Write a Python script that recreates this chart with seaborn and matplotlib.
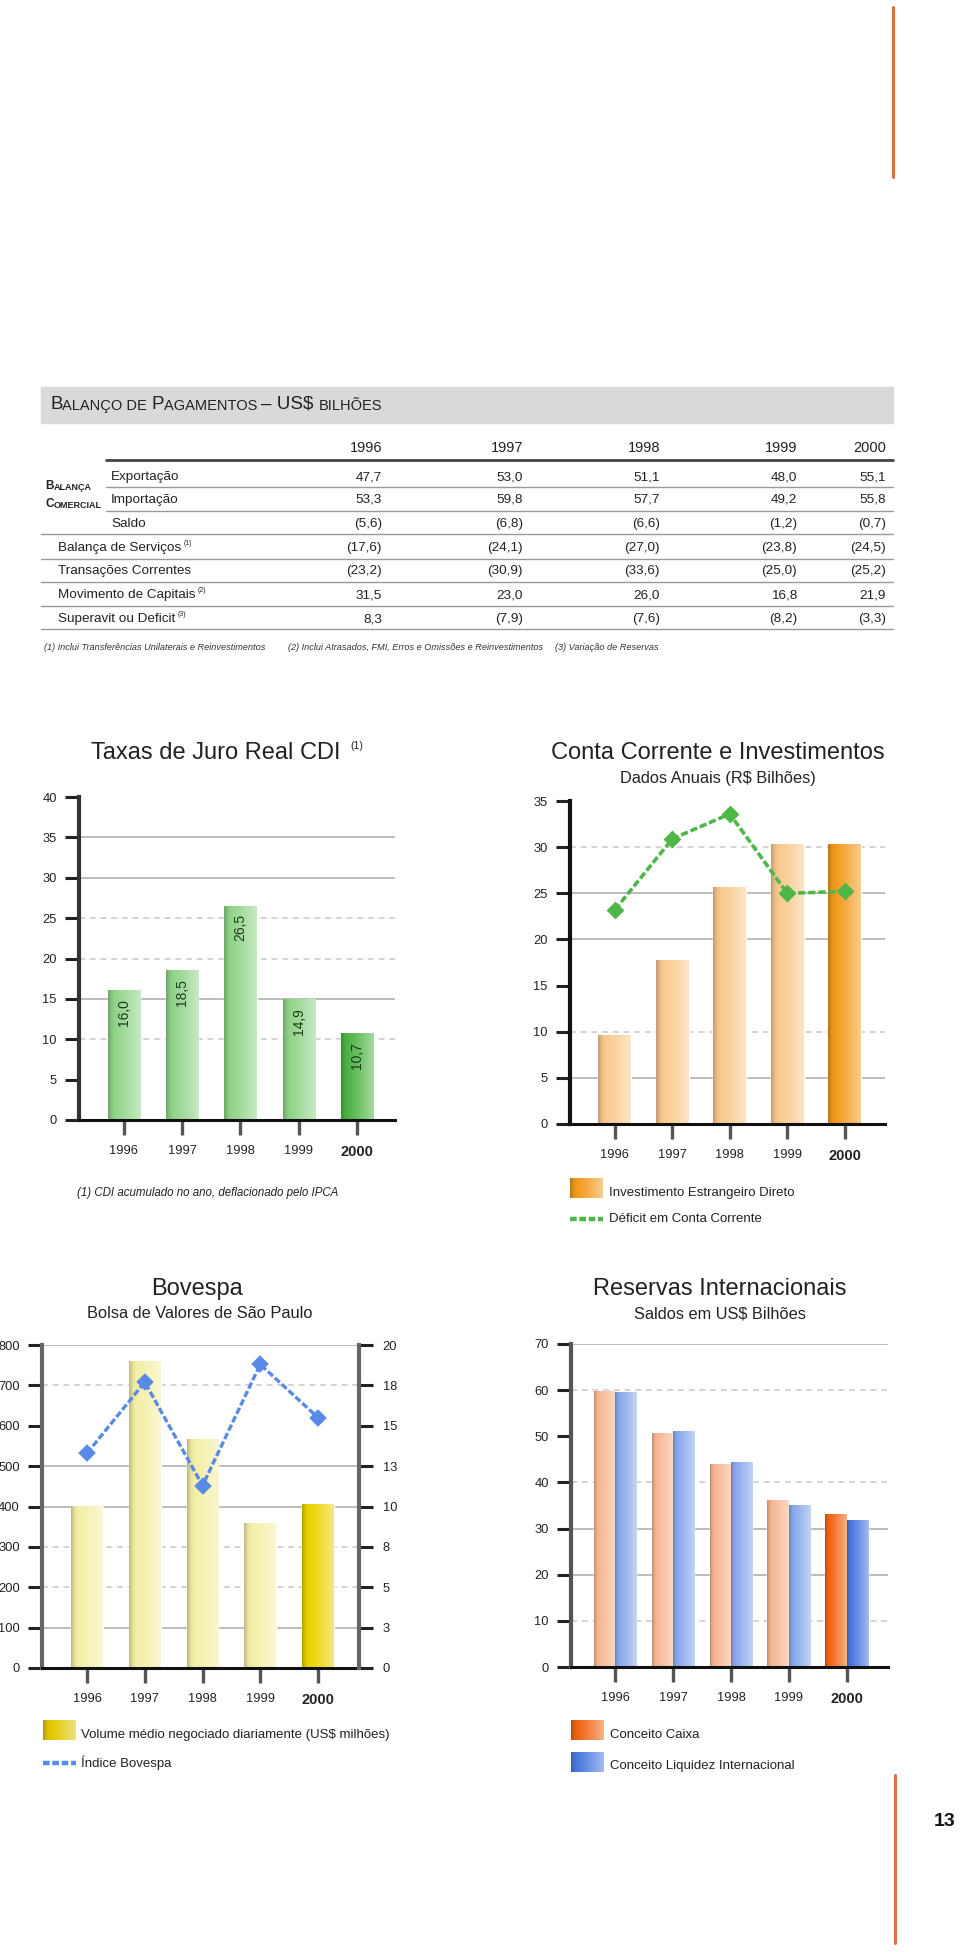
import numpy as np
import pandas as pd
import matplotlib
matplotlib.use("Agg")
import matplotlib.pyplot as plt
import matplotlib.colors as mcolors
from matplotlib.patches import Rectangle
from matplotlib.lines import Line2D
import seaborn as sns

sns.set_theme(style="white")
plt.rcParams['font.family'] = ['Liberation Sans', 'DejaVu Sans']
NARROW = ['Liberation Sans Narrow', 'Liberation Sans', 'DejaVu Sans']

W, H = 960, 1952
anos = ['1996', '1997', '1998', '1999', '2000']

# tabela - balanco de pagamentos (US$ bilhoes)
exportacao = [47.7, 53.0, 51.1, 48.0, 55.1]
importacao = [53.3, 59.8, 57.7, 49.2, 55.8]
saldo = [-5.6, -6.8, -6.6, -1.2, -0.7]
servicos = [-17.6, -24.1, -27.0, -23.8, -24.5]
transacoes = [-23.2, -30.9, -33.6, -25.0, -25.2]
capitais = [31.5, 23.0, 26.0, 16.8, 21.9]
superavit = [8.3, -7.9, -7.6, -8.2, -3.3]

# graficos
cdi = [16.0, 18.5, 26.5, 14.9, 10.7]
ied = [9.6, 17.7, 25.6, 30.3, 30.3]
deficit_cc = [23.2, 30.9, 33.6, 25.0, 25.2]
bov_volume = [400, 760, 565, 357, 406]
bov_indice = [13.3, 17.7, 11.3, 18.8, 15.5]
bov_dir_labels = ['0', '3', '5', '8', '10', '13', '15', '18', '20']
res_caixa = [59.8, 50.7, 43.8, 36.0, 33.0]
res_liquidez = [59.4, 51.1, 44.4, 35.0, 31.7]

verde = ['#92d48a', '#92d48a', '#92d48a', '#92d48a', '#4fb446']
laranja = ['#f9c98e', '#f9c98e', '#f9c98e', '#f9c98e', '#f39a1e']
amarelo = ['#f4efa6', '#f4efa6', '#f4efa6', '#f4efa6', '#ecd300']
caixa_cor, caixa_2000 = '#f6b793', '#f26414'
liq_cor, liq_2000 = '#8aa9ec', '#4c7be0'


def fmt(v):
    s = f"{abs(v):.1f}".replace('.', ',')
    return f"({s})" if v < 0 else s


fig = plt.figure(figsize=(9.6, 19.52), dpi=100)
bg = fig.add_axes([0, 0, 1, 1])
bg.set_xlim(0, W)
bg.set_ylim(H, 0)
bg.axis('off')


def add_ax(l, t, r, b):
    return fig.add_axes([l / W, 1 - b / H, (r - l) / W, (b - t) / H])


def grad(color, n=48):
    base = np.array(mcolors.to_rgb(color))
    t = np.linspace(0, 1, n)
    k = np.interp(t, [0, 0.12, 0.45, 0.8, 1], [-0.22, -0.05, 0.12, 0.35, 0.5])[:, None]
    return np.where(k < 0, base * (1 + k), base + (1 - base) * k)


def shade(ax, p, color):
    x, y, w, h = p.get_x(), p.get_y(), p.get_width(), p.get_height()
    ax.imshow(grad(color)[None], extent=(x, x + w, y, y + h), aspect='auto',
              interpolation='bilinear', zorder=p.get_zorder() + 0.1)


def style(ax, ymax, yticks, solid, dashed, spine_col, xlim):
    ax.set_ylim(0, ymax)
    ax.set_xlim(*xlim)
    ax.set_yticks(yticks)
    ax.set_xticks(range(5))
    ax.set_xticklabels(anos)
    ax.set_xlabel('')
    ax.set_ylabel('')
    ax.set_facecolor('none')
    for y in solid:
        ax.axhline(y, color='#bdbdbd', lw=1.4, zorder=0.5)
    for y in dashed:
        ax.axhline(y, color='#c9c9c9', lw=1.1, ls=(0, (4, 3)), zorder=0.5)
    for s in ['top', 'right']:
        ax.spines[s].set_visible(False)
    ax.spines['left'].set_linewidth(3)
    ax.spines['left'].set_color(spine_col)
    ax.spines['bottom'].set_linewidth(2.2)
    ax.spines['bottom'].set_color('#111')
    ax.tick_params(axis='y', direction='out', length=10, width=2.2, color='#222',
                   pad=6, labelsize=9.3, labelcolor='#222', left=True)
    ax.tick_params(axis='x', direction='out', length=11, width=2.4, color='#555',
                   pad=7, labelsize=9.3, labelcolor='#222', bottom=True)
    ax.get_xticklabels()[-1].set_fontweight('bold')
    ax.get_xticklabels()[-1].set_fontsize(10.5)


def legend_patch(x0, x1, y0, y1, color):
    bg.imshow(grad(color)[None], extent=(x0, x1, y1, y0), aspect='auto', interpolation='bilinear')


def legend_line(x0, x1, y, color):
    bg.add_line(Line2D([x0, x1], [y, y], color=color, lw=3.2, dashes=[1.5, 0.6]))


def chain(parts, x, y, weight='normal', family=None):
    fam = family or plt.rcParams['font.family']
    prev = None
    for s, size in parts:
        if prev is None:
            prev = bg.text(x, y, s, fontsize=size, ha='left', va='bottom', color='#222',
                           fontweight=weight, family=fam)
        else:
            prev = bg.annotate(s, xy=(1, 0), xycoords=prev, ha='left', va='bottom',
                               fontsize=size, color='#222', fontweight=weight, family=fam)
    return prev


# ---------------- tabela ----------------
bg.add_patch(Rectangle((41, 387), 852, 36, color='#d9d9d9', zorder=0))
chain([('B', 13.5), ('ALANÇO DE ', 10.5), ('P', 13.5), ('AGAMENTOS ', 10.5), ('– US$ ', 13.5), ('BILHÕES', 10.5)],
      50, 413)

col_x = [382, 523, 660, 797, 886]
for xx, a in zip(col_x, anos):
    bg.text(xx, 448, a, ha='right', va='center', fontsize=10.5, color='#222')

linhas = [('Exportação', exportacao, 477, 111, ''),
          ('Importação', importacao, 500, 111, ''),
          ('Saldo', saldo, 524, 111, ''),
          ('Balança de Serviços', servicos, 548, 58, '(1)'),
          ('Transações Correntes', transacoes, 571, 58, ''),
          ('Movimento de Capitais', capitais, 595, 58, '(2)'),
          ('Superavit ou Deficit', superavit, 619, 58, '(3)')]
for nome, vals, yy, xx, nota in linhas:
    t = bg.text(xx, yy, nome, ha='left', va='center', fontsize=9.7, color='#222')
    if nota:
        bg.annotate(nota, xy=(1, 0.55), xycoords=t, xytext=(1.5, 0), textcoords='offset points',
                    ha='left', va='bottom', fontsize=5, color='#222')
    for cx, v in zip(col_x, vals):
        bg.text(cx, yy, fmt(v), ha='right', va='center', fontsize=9.7, color='#222')

bg.add_line(Line2D([106, 893], [460, 460], color='#444', lw=2))
for yy in [487, 511]:
    bg.add_line(Line2D([106, 893], [yy, yy], color='#999', lw=1))
for yy in [534, 559, 582, 606, 629]:
    bg.add_line(Line2D([41, 893], [yy, yy], color='#999', lw=1))

chain([('B', 8.5), ('ALANÇA', 6.5)], 45, 492, weight='bold')
chain([('C', 8.5), ('OMERCIAL', 6.5)], 45, 510, weight='bold')

notas = [(44, '(1) Inclui Transferências Unilaterais e Reinvestimentos'),
         (288, '(2) Inclui Atrasados, FMI, Erros e Omissões e Reinvestimentos'),
         (555, '(3) Variação de Reservas')]
for xx, s in notas:
    bg.text(xx, 647, s, ha='left', va='center', fontsize=6.6, style='italic', color='#333', family=NARROW)

# ---------------- Taxas de Juro Real CDI ----------------
ax1 = add_ax(79, 797, 395, 1120)
sns.barplot(x=anos, y=cdi, hue=anos, palette=verde, saturation=1, width=0.55, legend=False, ax=ax1)
style(ax1, 40, range(0, 41, 5), [35, 30, 15], [25, 20, 10], '#333', (-0.77, 4.65))
for p, c in zip(ax1.patches, verde):
    shade(ax1, p, c)
for i, v in enumerate(cdi):
    ax1.annotate(fmt(v), xy=(i, v), xytext=(0, -6), textcoords='offset points', rotation=90,
                 ha='center', va='top', fontsize=10, color='#1d3a1d', zorder=5)
bg.text(216, 753, 'Taxas de Juro Real CDI', ha='center', va='center', fontsize=17, color='#222')
bg.text(350, 746, '(1)', ha='left', va='center', fontsize=7.5, color='#222')
bg.text(77, 1193, '(1) CDI acumulado no ano, deflacionado pelo IPCA', ha='left', va='center',
        fontsize=8.3, style='italic', color='#222')

# ---------------- Conta Corrente e Investimentos ----------------
ax2 = add_ax(570, 801, 885, 1124)
sns.barplot(x=anos, y=ied, hue=anos, palette=laranja, saturation=1, width=0.57, legend=False, ax=ax2)
sns.pointplot(x=anos, y=deficit_cc, color='#4db848', markers='D', linestyles='--', errorbar=None,
              markersize=7, linewidth=2.6, zorder=6, ax=ax2)
ax2.lines[-1].set_dashes([2, 0.8])
style(ax2, 35, range(0, 36, 5), [25, 20, 5], [30, 10], '#111', (-0.78, 4.70))
for p, c in zip(ax2.patches, laranja):
    shade(ax2, p, c)
bg.text(718, 753, 'Conta Corrente e Investimentos', ha='center', va='center', fontsize=17, color='#222')
bg.text(718, 779, 'Dados Anuais (R$ Bilhões)', ha='center', va='center', fontsize=11.8, color='#222')
legend_patch(570, 603, 1178, 1198, '#f39a1e')
bg.text(609, 1193, 'Investimento Estrangeiro Direto', ha='left', va='center', fontsize=9.5, color='#222')
legend_line(570, 603, 1219, '#4db848')
bg.text(609, 1219, 'Déficit em Conta Corrente', ha='left', va='center', fontsize=9.5, color='#222')

# ---------------- Bovespa ----------------
ax3 = add_ax(42, 1345, 359, 1668)
sns.barplot(x=anos, y=bov_volume, hue=anos, palette=amarelo, saturation=1, width=0.55, legend=False, ax=ax3)
ax3r = ax3.twinx()
sns.pointplot(x=anos, y=bov_indice, color='#5a8ae8', markers='D', linestyles='--', errorbar=None,
              markersize=7, linewidth=2.4, zorder=6, ax=ax3r)
ax3r.lines[-1].set_dashes([2, 0.8])
style(ax3, 800, range(0, 801, 100), [800, 500, 400, 100], [700, 300, 200], '#666', (-0.78, 4.71))
for p, c in zip(ax3.patches, amarelo):
    shade(ax3, p, c)
ax3r.set_ylim(0, 20)
ax3r.set_yticks(np.arange(0, 20.1, 2.5))
ax3r.set_yticklabels(bov_dir_labels)
ax3r.set_ylabel('')
ax3r.set_xlabel('')
for s in ['top', 'left', 'bottom']:
    ax3r.spines[s].set_visible(False)
ax3r.spines['right'].set_linewidth(3)
ax3r.spines['right'].set_color('#666')
ax3r.tick_params(axis='y', direction='out', length=10, width=2.2, color='#222', pad=7,
                 labelsize=9.3, labelcolor='#222', right=True)
ax3.set_xlim(-0.78, 4.71)
bg.text(197, 1289, 'Bovespa', ha='center', va='center', fontsize=17, color='#222')
bg.text(200, 1314, 'Bolsa de Valores de São Paulo', ha='center', va='center', fontsize=11.8, color='#222')
legend_patch(43, 76, 1720, 1740, '#e2c800')
bg.text(81, 1735, 'Volume médio negociado diariamente (US$ milhões)', ha='left', va='center',
        fontsize=9.5, color='#222')
legend_line(43, 76, 1763, '#5a8ae8')
bg.text(81, 1763, 'Índice Bovespa', ha='left', va='center', fontsize=9.5, color='#222')

# ---------------- Reservas Internacionais ----------------
ax4 = add_ax(571, 1344, 888, 1667)
res = pd.DataFrame({'ano': anos * 2,
                    'valor': res_caixa + res_liquidez,
                    'conceito': ['Conceito Caixa'] * 5 + ['Conceito Liquidez Internacional'] * 5})
sns.barplot(data=res, x='ano', y='valor', hue='conceito', palette=[caixa_cor, liq_cor], saturation=1,
            width=0.74, legend=False, ax=ax4)
style(ax4, 70, range(0, 71, 10), [70, 30, 20], [60, 40, 10], '#555', (-0.76, 4.71))
for p in ax4.patches:
    eh_caixa = np.allclose(p.get_facecolor()[:3], mcolors.to_rgb(caixa_cor), atol=0.02)
    ultimo = p.get_x() + p.get_width() / 2 > 3.5
    if eh_caixa:
        cor = caixa_2000 if ultimo else caixa_cor
    else:
        cor = liq_2000 if ultimo else liq_cor
    shade(ax4, p, cor)
bg.text(720, 1289, 'Reservas Internacionais', ha='center', va='center', fontsize=17, color='#222')
bg.text(720, 1314, 'Saldos em US$ Bilhões', ha='center', va='center', fontsize=11.8, color='#222')
legend_patch(571, 604, 1720, 1740, caixa_2000)
bg.text(610, 1735, 'Conceito Caixa', ha='left', va='center', fontsize=9.5, color='#222')
legend_patch(571, 604, 1752, 1772, liq_2000)
bg.text(610, 1766, 'Conceito Liquidez Internacional', ha='left', va='center', fontsize=9.5, color='#222')

# ---------------- pagina ----------------
bg.add_line(Line2D([893, 893], [7, 177], color='#e07040', lw=2.2))
bg.add_line(Line2D([895, 895], [1775, 1943], color='#e07040', lw=2.2))
bg.text(945, 1821, '13', ha='center', va='center', fontsize=14, fontweight='bold', color='#111')

fig.savefig('out.png', dpi=100)
